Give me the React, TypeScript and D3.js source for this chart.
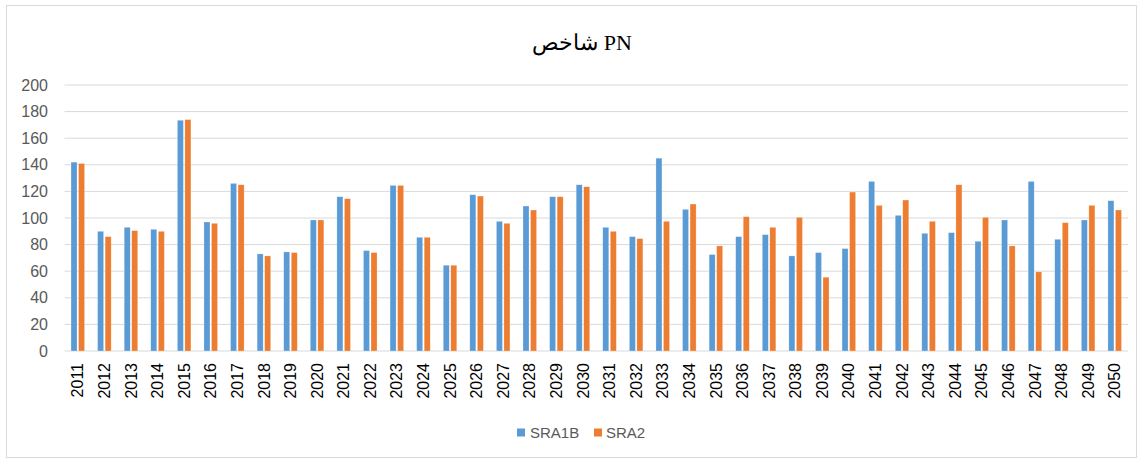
import React from "react";
import * as d3 from "d3";

const years = [
  "2011", "2012", "2013", "2014", "2015", "2016", "2017", "2018", "2019", "2020",
  "2021", "2022", "2023", "2024", "2025", "2026", "2027", "2028", "2029", "2030",
  "2031", "2032", "2033", "2034", "2035", "2036", "2037", "2038", "2039", "2040",
  "2041", "2042", "2043", "2044", "2045", "2046", "2047", "2048", "2049", "2050",
];

const sra1b = [
  142, 90, 93, 91.5, 173.5, 97, 126, 73, 74.5, 98.5,
  116, 75.5, 124.5, 85.5, 64.5, 117.5, 97.5, 109, 116, 125,
  93, 86, 145, 106.5, 72.5, 86, 87.5, 71.5, 74, 77,
  127.5, 102, 88.5, 89, 82.5, 98.5, 127.5, 84, 98.5, 113,
];

const sra2 = [
  141, 86, 90.5, 90, 174, 96, 125, 71.5, 74, 98.5,
  114.5, 74, 124.5, 85.5, 64.5, 116.5, 96, 106, 116, 123.5,
  90, 84.5, 97.5, 110.5, 79, 101, 93, 100.5, 55.5, 119.5,
  109.5, 113.5, 97.5, 125, 100.5, 79, 59.5, 96.5, 109.5, 106,
];

const yTicks = [0, 20, 40, 60, 80, 100, 120, 140, 160, 180, 200];
const seriesNames = ["SRA1B", "SRA2"];
const colors = ["#5B9BD5", "#ED7D31"];

export default function App() {
  const width = 1143;
  const height = 461;
  const plot = { left: 64.5, right: 1128, top: 85, bottom: 351 };

  const x = d3.scaleBand<string>()
    .domain(years)
    .range([plot.left, plot.right])
    .paddingInner(0.49)
    .paddingOuter(0.245);

  const xInner = d3.scaleBand<string>()
    .domain(seriesNames)
    .range([0, x.bandwidth()])
    .paddingInner(0.2);

  const y = d3.scaleLinear().domain([0, 200]).range([plot.bottom, plot.top]);

  const color = d3.scaleOrdinal<string, string>().domain(seriesNames).range(colors);

  const series = [sra1b, sra2];
  const labelColor = "#595959";

  return (
    <div style={{ position: "absolute", left: 0, top: 0 }}>
      <svg width={width} height={height} style={{ display: "block" }}>
        <rect x={0} y={0} width={width} height={height} fill="white" />
        <rect x={6.5} y={5.5} width={1130} height={452} fill="white" stroke="#d9d9d9" strokeWidth={1} />

        <text x={582} y={50} textAnchor="middle" fontFamily="'Liberation Serif', 'DejaVu Serif', serif"
          fontSize={22} fill="#000">
          شاخص PN
        </text>

        <g className="grid">
          {yTicks.map(t => (
            <g key={t}>
              <line x1={plot.left} x2={plot.right} y1={y(t)} y2={y(t)} stroke="#d9d9d9" strokeWidth={1} />
              <text x={48} y={y(t)} dy="0.35em" textAnchor="end" fontFamily="'Liberation Sans', Arial, sans-serif"
                fontSize={16} fill={labelColor}>{t}</text>
            </g>
          ))}
        </g>

        <g className="bars">
          {years.map((yr, i) => (
            <g key={yr} transform={`translate(${x(yr)},0)`}>
              {seriesNames.map((s, j) => {
                const v = series[j][i];
                return (
                  <rect key={s} x={xInner(s)} y={y(v)} width={xInner.bandwidth()} height={y(0) - y(v)}
                    fill={color(s)} stroke="#ffffff" strokeOpacity={0.5} strokeWidth={0.5} />
                );
              })}
            </g>
          ))}
        </g>

        <g className="x-axis">
          {years.map(yr => {
            const cx = (x(yr) as number) + x.bandwidth() / 2;
            return (
              <text key={yr} transform={`translate(${cx},${363}) rotate(-90)`} textAnchor="end" dy="0.35em"
                fontFamily="'Liberation Sans', Arial, sans-serif" fontSize={16} fill="#000">
                {yr}
              </text>
            );
          })}
        </g>

        <g className="legend" fontFamily="'Liberation Sans', Arial, sans-serif" fontSize={15} fill={labelColor}>
          <rect x={517} y={428.5} width={8} height={8} fill={colors[0]} />
          <text x={530} y={433} dy="0.35em">{seriesNames[0]}</text>
          <rect x={594} y={428.5} width={8} height={8} fill={colors[1]} />
          <text x={606} y={433} dy="0.35em">{seriesNames[1]}</text>
        </g>
      </svg>
    </div>
  );
}
